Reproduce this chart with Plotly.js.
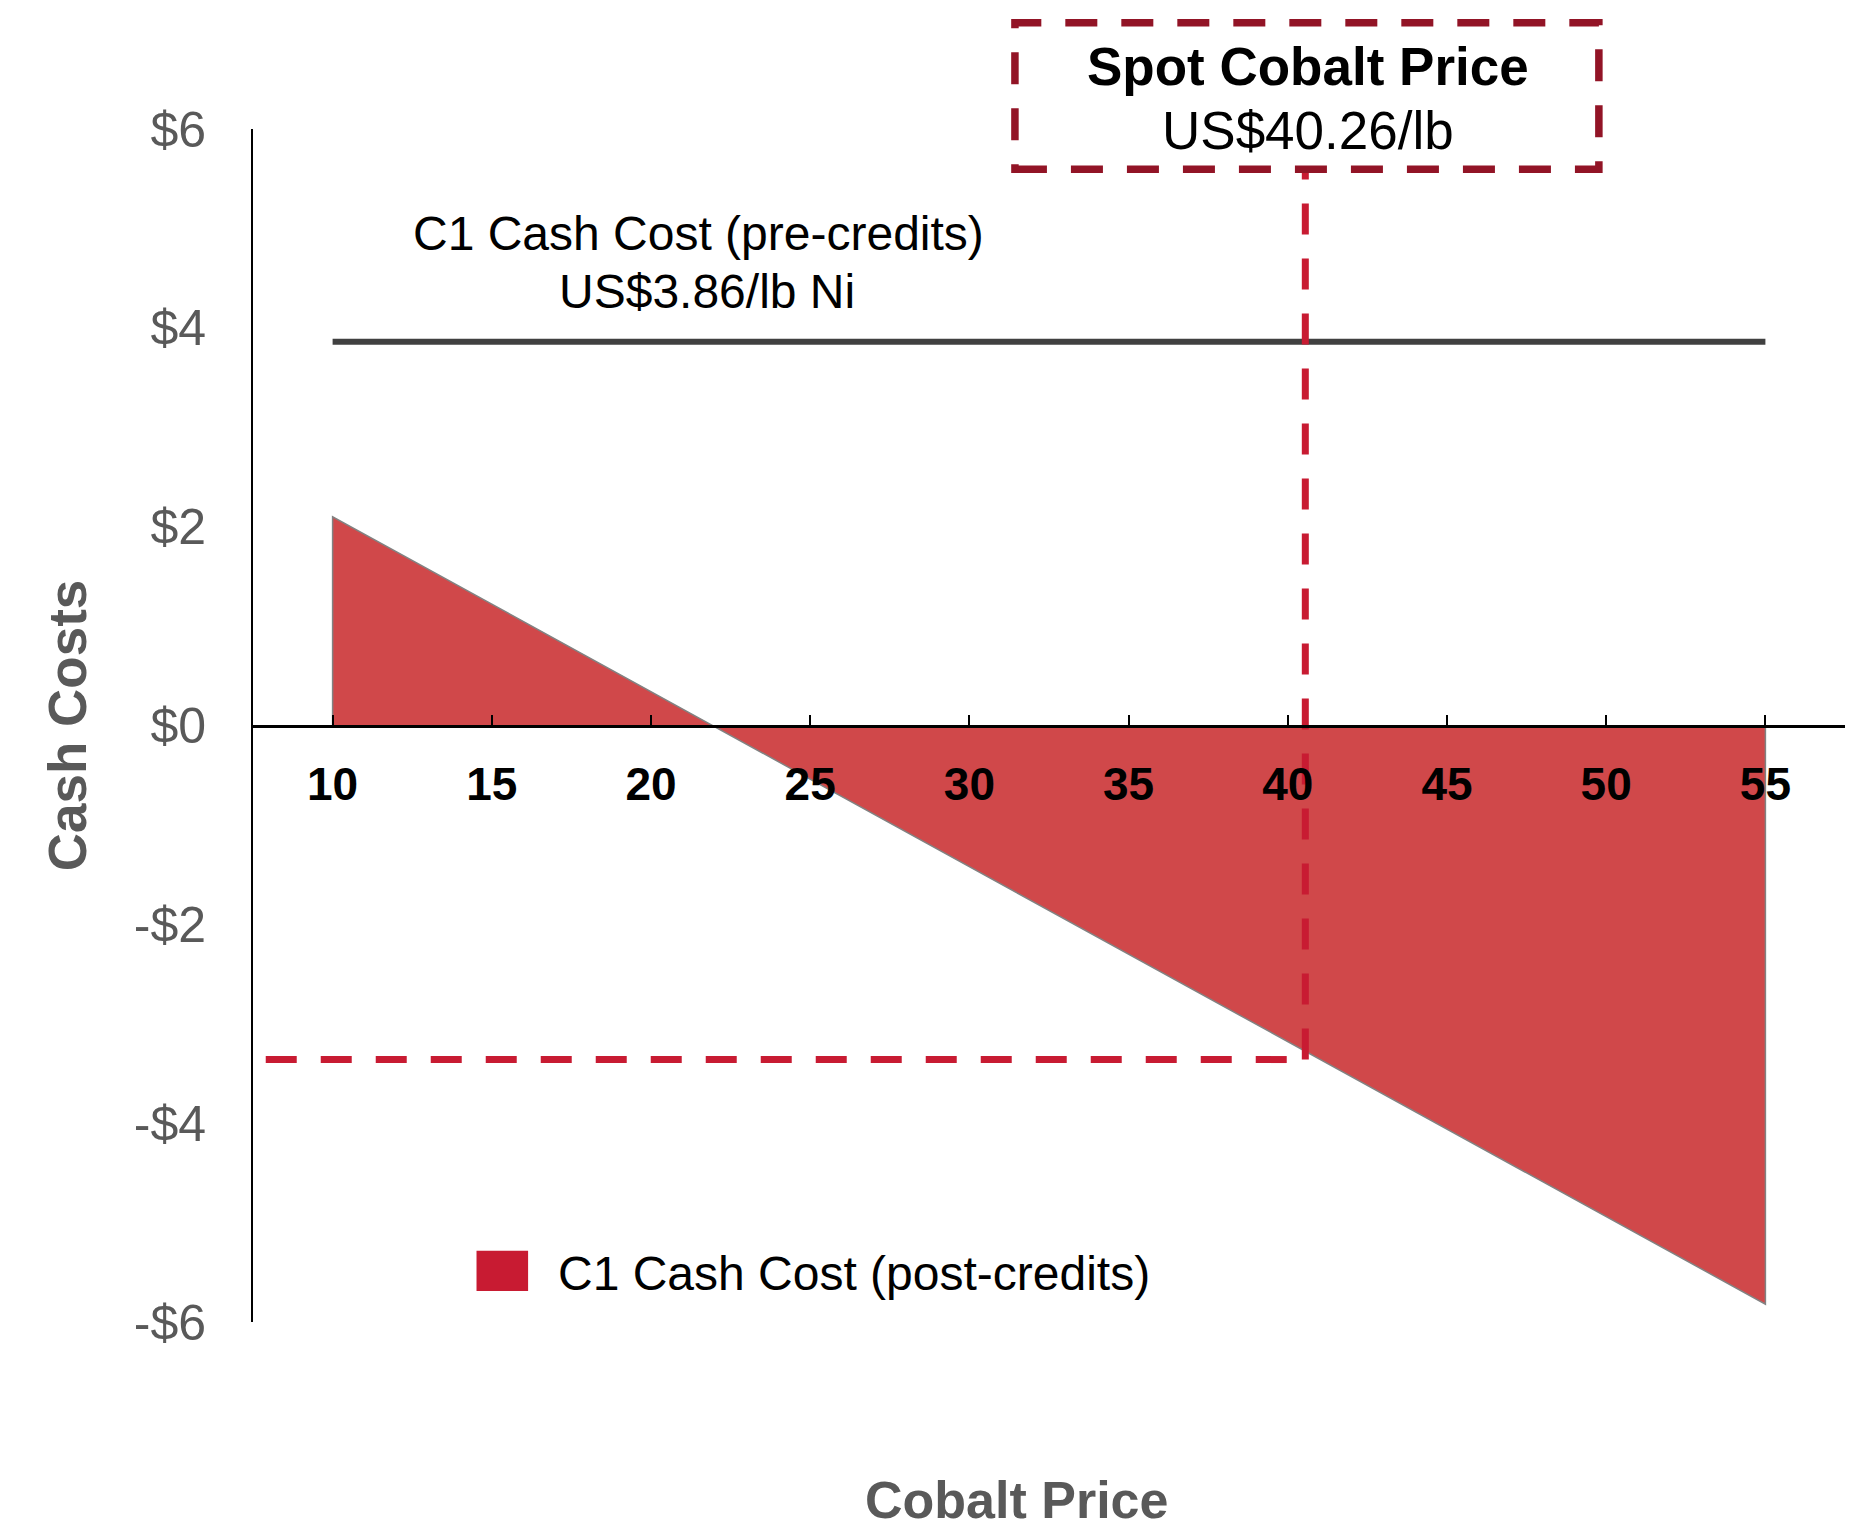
<!DOCTYPE html>
<html>
<head>
<meta charset="utf-8">
<script src="https://cdn.plot.ly/plotly-3.0.1.min.js"></script>
<style>html,body{margin:0;padding:0;background:#fff;}#chart{width:1860px;height:1530px;}</style>
</head>
<body>
<div id="chart"></div>
<script>
// ---- data ----
const cobaltPrice = [10, 15, 20, 25, 30, 35, 40, 45, 50, 55];
const postCreditCost = [2.10, 1.22, 0.34, -0.54, -1.42, -2.30, -3.18, -4.06, -4.94, -5.82];
const preCreditCost = 3.86;
const spotPrice = 40.55;          // position of the spot marker line
const spotCostAtSpot = -3.36;     // horizontal dashed marker level
const xTickVals = [10, 15, 20, 25, 30, 35, 40, 45, 50, 55, 57.5];
const xTickText = ['10', '15', '20', '25', '30', '35', '40', '45', '50', '55', ''];
const yTickVals = [-6, -4, -2, 0, 2, 4, 6];
const yTickText = ['-$6', '-$4', '-$2', '$0', '$2', '$4', '$6'];

const FONT = 'Liberation Sans, Arial, Helvetica, sans-serif';
const RED = 'rgb(200,27,50)';
const DARKRED = 'rgb(146,20,38)';

const n = cobaltPrice.length;
const polyX = [cobaltPrice[0]].concat(cobaltPrice, [cobaltPrice[n - 1]]);
const polyY = [0].concat(postCreditCost, [0]);

const traces = [
  {
    type: 'scatter', mode: 'lines', name: 'C1 Cash Cost (post-credits)',
    x: polyX, y: polyY, fill: 'toself', fillcolor: 'rgb(208,72,74)',
    line: {color: 'rgb(130,130,130)', width: 1.5}, showlegend: false, hoverinfo: 'x+y'
  },
  {
    type: 'scatter', mode: 'lines', name: 'C1 Cash Cost (pre-credits)',
    x: [cobaltPrice[0], cobaltPrice[n - 1]], y: [preCreditCost, preCreditCost],
    line: {color: '#404040', width: 6}, showlegend: false
  },
  {
    type: 'scatter', mode: 'lines', name: 'Spot price',
    x: [spotPrice, spotPrice], y: [spotCostAtSpot, 5.6],
    line: {color: RED, width: 7, dash: '31px,24px'}, showlegend: false
  },
  {
    type: 'scatter', mode: 'lines', name: 'Spot cost',
    x: [7.9, spotPrice], y: [spotCostAtSpot, spotCostAtSpot],
    line: {color: RED, width: 7, dash: '31px,24px'}, showlegend: false
  }
];

const layout = {
  width: 1860, height: 1530,
  margin: {l: 253, r: 15, t: 129, b: 208},
  paper_bgcolor: '#fff', plot_bgcolor: '#fff',
  showlegend: false,
  font: {family: FONT},
  xaxis: {
    range: [7.5, 57.5], anchor: 'free', position: 0.5,
    showgrid: false, zeroline: false,
    showline: true, linecolor: '#000', linewidth: 2.5,
    ticks: 'inside', ticklen: 10, tickwidth: 2, tickcolor: '#000',
    tickmode: 'array', tickvals: xTickVals, ticktext: xTickText,
    tickfont: {family: FONT, size: 46, color: '#000', weight: 'bold'},
    ticklabelstandoff: 18
  },
  yaxis: {
    range: [-6, 6], domain: [0, 1],
    showgrid: false, zeroline: false,
    showline: true, linecolor: '#000', linewidth: 2,
    ticks: '', tickmode: 'array', tickvals: yTickVals, ticktext: yTickText,
    tickfont: {family: FONT, size: 50, color: '#595959'},
    ticklabelstandoff: 35,
    title: {text: '<b>Cash Costs</b>', font: {family: FONT, size: 53, color: '#595959'}, standoff: 30}
  },
  shapes: [
    {type: 'rect', xref: 'paper', yref: 'paper', x0: 0.4786, x1: 0.8454, y0: 0.9663, y1: 1.0891,
     line: {color: DARKRED, width: 7.5, dash: '32px,24px'}, fillcolor: 'rgba(0,0,0,0)', layer: 'above'},
    {type: 'rect', xref: 'paper', yref: 'paper', x0: 0.1404, x1: 0.1728, y0: 0.026, y1: 0.0598,
     line: {width: 0}, fillcolor: RED}
  ],
  annotations: [
    {xref: 'paper', yref: 'paper', x: 0.4796, y: -0.1493, xanchor: 'center', yanchor: 'middle', showarrow: false,
     text: '<b>Cobalt Price</b>', font: {family: FONT, size: 52, color: '#595959'}},
    {xref: 'paper', yref: 'paper', x: 0.6624, y: 1.052, xanchor: 'center', yanchor: 'middle', showarrow: false,
     text: '<b>Spot Cobalt Price</b>', font: {family: FONT, size: 53, color: '#000'}},
    {xref: 'paper', yref: 'paper', x: 0.6624, y: 0.9985, xanchor: 'center', yanchor: 'middle', showarrow: false,
     text: 'US$40.26/lb', font: {family: FONT, size: 53, color: '#000'}},
    {xref: 'paper', yref: 'paper', x: 0.2798, y: 0.9125, xanchor: 'center', yanchor: 'middle', showarrow: false,
     text: 'C1 Cash Cost (pre-credits)', font: {family: FONT, size: 48, color: '#000'}},
    {xref: 'paper', yref: 'paper', x: 0.2854, y: 0.8639, xanchor: 'center', yanchor: 'middle', showarrow: false,
     text: 'US$3.86/lb Ni', font: {family: FONT, size: 48, color: '#000'}},
    {xref: 'paper', yref: 'paper', x: 0.1906, y: 0.0405, xanchor: 'left', yanchor: 'middle', showarrow: false,
     text: 'C1 Cash Cost (post-credits)', font: {family: FONT, size: 48, color: '#000'}}
  ]
};

Plotly.newPlot('chart', traces, layout, {displayModeBar: false, responsive: false});
</script>
</body>
</html>
